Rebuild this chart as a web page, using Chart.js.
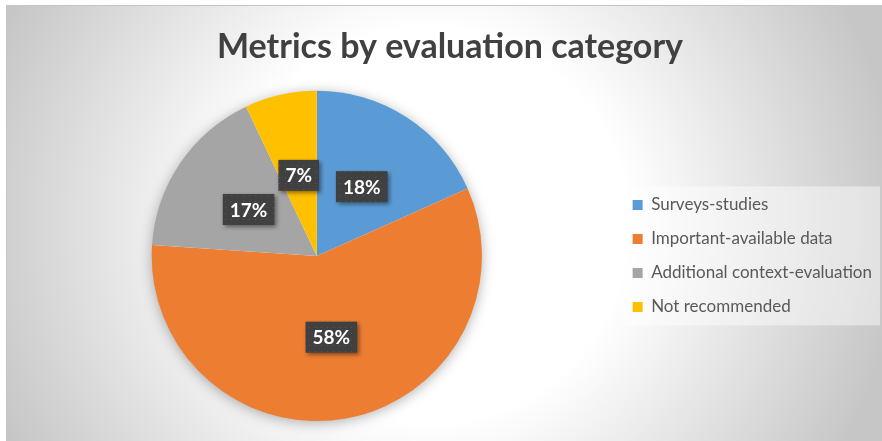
<!DOCTYPE html>
<html>
<head>
<meta charset="utf-8">
<script src="https://cdn.jsdelivr.net/npm/chart.js@4/dist/chart.umd.min.js"></script>
<style>
  body { margin: 0; background: #fff; }
  #pie { display: block; }
</style>
</head>
<body>
<canvas id="pie" width="882" height="441"></canvas>
<script>
// data (counts, shown as share of total)
const categories = ['Surveys-studies', 'Important-available data', 'Additional context-evaluation', 'Not recommended'];
const counts = [13, 41, 12, 5];
const sliceColors = ['#5B9BD5', '#ED7D31', '#A5A5A5', '#FFC000'];
const chartTitle = 'Metrics by evaluation category';

// little dotted tile for the label boxes
function dotPattern(ctx) {
  const tile = document.createElement('canvas');
  tile.width = 6; tile.height = 6;
  const t = tile.getContext('2d');
  t.fillStyle = '#404040';
  t.fillRect(0, 0, 6, 6);
  t.fillStyle = '#555555';
  t.fillRect(3, 3, 1, 1);
  return ctx.createPattern(tile, 'repeat');
}

// frame with radial grey background + legend panel
const backdrop = {
  id: 'backdrop',
  beforeDraw(chart) {
    const { ctx, width, height } = chart;
    ctx.save();
    ctx.fillStyle = '#fff';
    ctx.fillRect(0, 0, width, height);
    const g = ctx.createRadialGradient(430, 225, 0, 430, 225, 470);
    g.addColorStop(0, '#ffffff');
    g.addColorStop(0.42, '#ffffff');
    g.addColorStop(1, '#c6c6c6');
    ctx.fillStyle = g;
    ctx.fillRect(6, 5, width - 6, height - 5);
    ctx.strokeStyle = '#c4c4c4';
    ctx.lineWidth = 1;
    ctx.strokeRect(6.5, 5.5, width - 6, height - 5);

    const lg = chart.legend;
    if (lg && lg.legendHitBoxes && lg.legendHitBoxes.length) {
      const boxes = lg.legendHitBoxes;
      const first = boxes[0], last = boxes[boxes.length - 1];
      const x0 = first.left - 10;
      const y0 = first.top - 10;
      const y1 = last.top + last.height + 10;
      ctx.fillStyle = 'rgba(255,255,255,0.45)';
      ctx.fillRect(x0, y0, 880 - x0, y1 - y0);
    }
    ctx.restore();
  }
};

// soft shadow under the whole pie
const pieShadow = {
  id: 'pieShadow',
  beforeDatasetsDraw(chart) {
    const arc = chart.getDatasetMeta(0).data[0];
    if (!arc) return;
    const { ctx } = chart;
    ctx.save();
    ctx.shadowColor = 'rgba(0,0,0,0.35)';
    ctx.shadowBlur = 14;
    ctx.shadowOffsetY = 2;
    ctx.fillStyle = '#ffffff';
    ctx.beginPath();
    ctx.arc(arc.x, arc.y, arc.outerRadius - 1, 0, Math.PI * 2);
    ctx.fill();
    ctx.restore();
  }
};

// percentage callouts in dark boxes
const percentLabels = {
  id: 'percentLabels',
  afterDatasetsDraw(chart) {
    const { ctx } = chart;
    const values = chart.data.datasets[0].data;
    const total = values.reduce((a, b) => a + b, 0);
    const fill = dotPattern(ctx);
    chart.getDatasetMeta(0).data.forEach((arc, i) => {
      const pos = arc.tooltipPosition();
      const text = Math.round(values[i] / total * 100) + '%';
      ctx.save();
      ctx.font = 'bold 19px Lato, "Open Sans", sans-serif';
      const w = ctx.measureText(text).width + 14;
      const h = 31;
      ctx.shadowColor = 'rgba(0,0,0,0.45)';
      ctx.shadowBlur = 4;
      ctx.shadowOffsetX = 2;
      ctx.shadowOffsetY = 2;
      ctx.fillStyle = fill;
      ctx.fillRect(pos.x - w / 2, pos.y - h / 2, w, h);
      ctx.shadowColor = 'transparent';
      ctx.fillStyle = '#ffffff';
      ctx.textAlign = 'center';
      ctx.textBaseline = 'middle';
      ctx.fillText(text, pos.x, pos.y + 1);
      ctx.restore();
    });
  }
};

new Chart(document.getElementById('pie'), {
  type: 'pie',
  data: {
    labels: categories,
    datasets: [{
      data: counts,
      backgroundColor: sliceColors,
      borderWidth: 0
    }]
  },
  options: {
    responsive: false,
    animation: false,
    layout: { padding: { left: 18, right: 0, top: 0, bottom: 20 } },
    plugins: {
      title: {
        display: true,
        text: chartTitle,
        color: '#404040',
        font: { family: 'Lato, "Open Sans", sans-serif', size: 34, weight: 'bold' },
        padding: { top: 27, bottom: 23 }
      },
      legend: {
        position: 'right',
        fullSize: false,
        labels: {
          color: '#595959',
          font: { family: 'Lato, "Open Sans", sans-serif', size: 17 },
          boxWidth: 10,
          boxHeight: 10,
          padding: 17
        }
      },
      tooltip: { enabled: false }
    }
  },
  plugins: [backdrop, pieShadow, percentLabels]
});
</script>
</body>
</html>
